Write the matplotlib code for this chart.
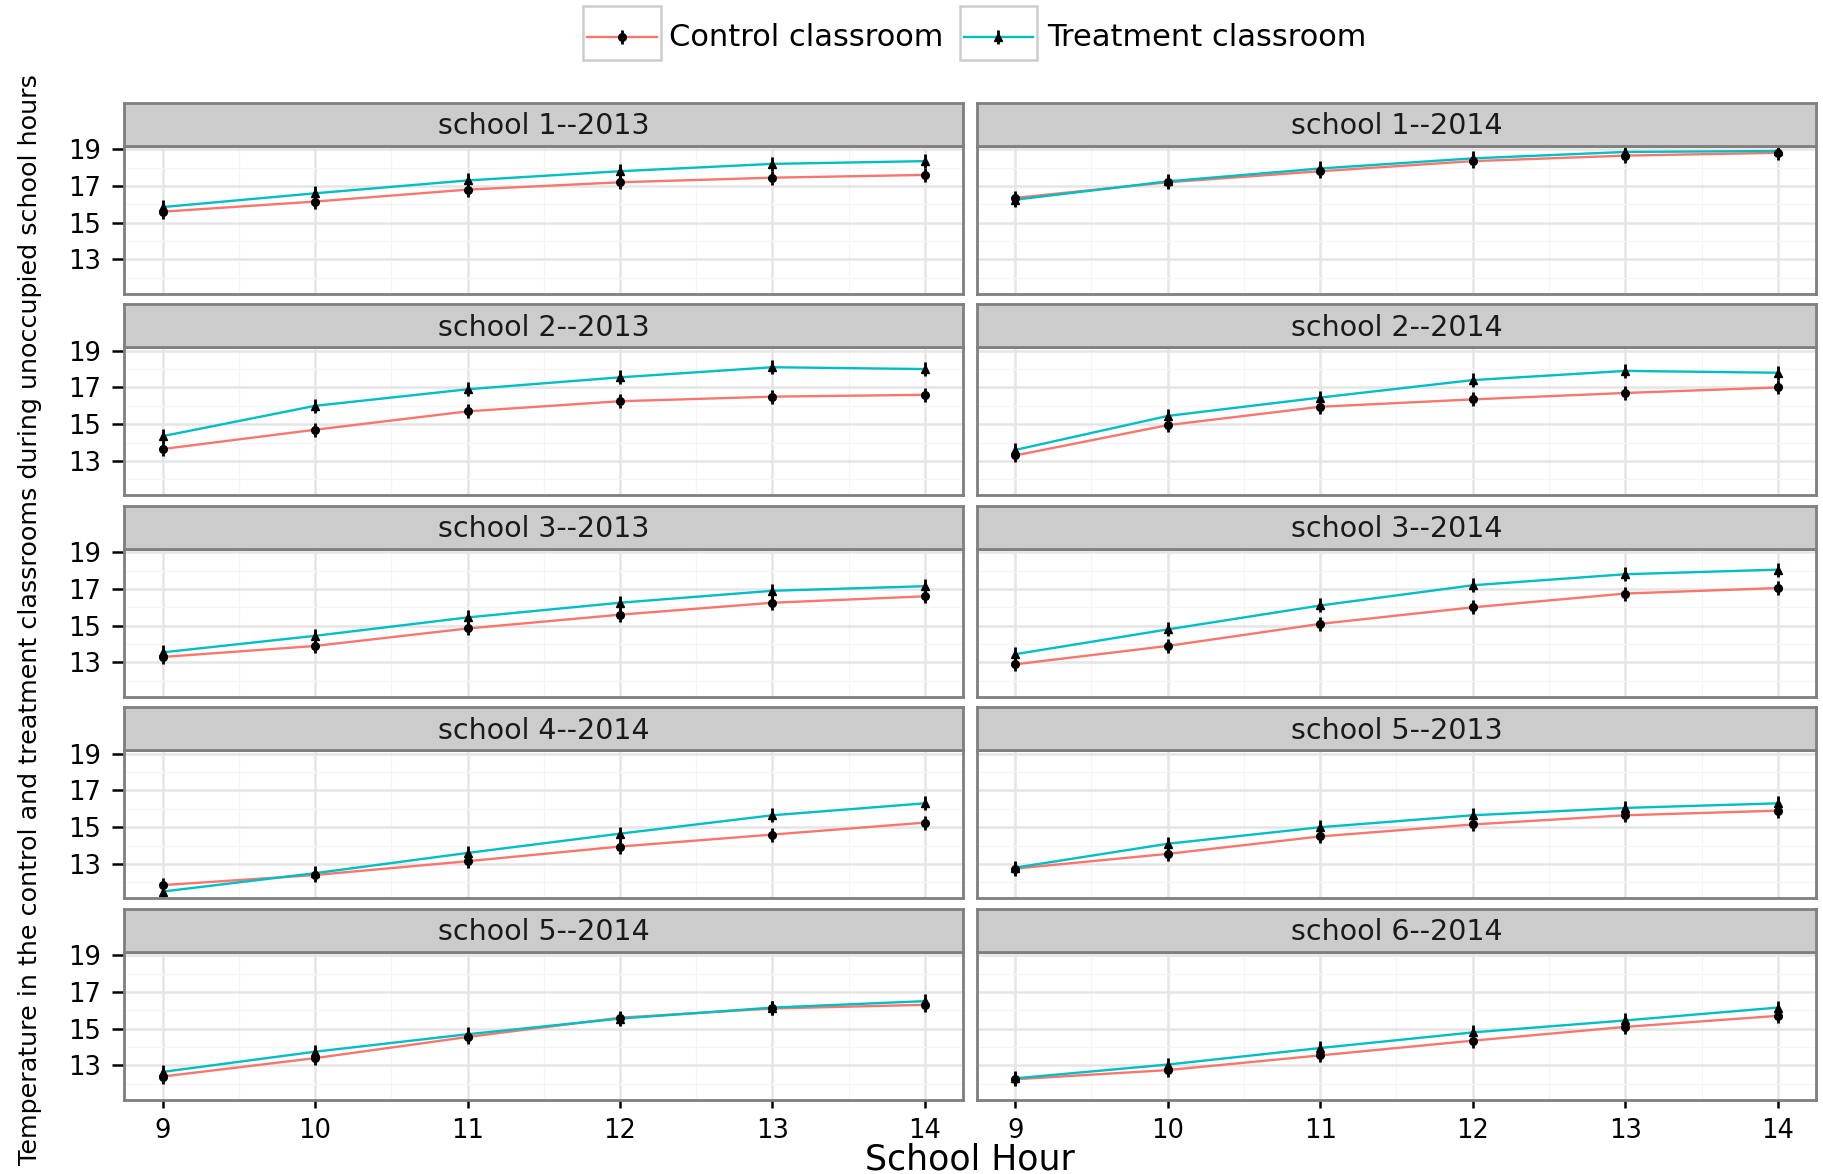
import numpy as np
import matplotlib
matplotlib.use("Agg")
import matplotlib.pyplot as plt
from matplotlib.lines import Line2D
from matplotlib.patches import Rectangle

plt.rcParams['font.family'] = ['DejaVu Sans']

hours = [9, 10, 11, 12, 13, 14]
panels = ["school 1--2013", "school 1--2014", "school 2--2013", "school 2--2014",
          "school 3--2013", "school 3--2014", "school 4--2014", "school 5--2013",
          "school 5--2014", "school 6--2014"]
control = [
    [15.6, 16.15, 16.8, 17.2, 17.45, 17.6],
    [16.35, 17.2, 17.8, 18.35, 18.65, 18.8],
    [13.65, 14.7, 15.7, 16.25, 16.5, 16.6],
    [13.3, 14.95, 15.95, 16.35, 16.7, 17.0],
    [13.3, 13.9, 14.85, 15.6, 16.25, 16.6],
    [12.9, 13.9, 15.1, 16.0, 16.75, 17.05],
    [11.85, 12.4, 13.15, 13.95, 14.6, 15.25],
    [12.75, 13.55, 14.5, 15.15, 15.65, 15.9],
    [12.4, 13.4, 14.55, 15.6, 16.1, 16.3],
    [12.25, 12.75, 13.55, 14.35, 15.1, 15.7],
]
treatment = [
    [15.85, 16.6, 17.3, 17.8, 18.2, 18.35],
    [16.25, 17.25, 17.95, 18.5, 18.85, 18.9],
    [14.35, 16.0, 16.9, 17.55, 18.1, 18.0],
    [13.6, 15.45, 16.45, 17.4, 17.9, 17.8],
    [13.55, 14.45, 15.45, 16.25, 16.9, 17.15],
    [13.45, 14.8, 16.1, 17.2, 17.8, 18.05],
    [11.5, 12.5, 13.6, 14.65, 15.65, 16.3],
    [12.8, 14.1, 15.0, 15.65, 16.05, 16.3],
    [12.65, 13.75, 14.7, 15.55, 16.15, 16.5],
    [12.3, 13.05, 13.95, 14.8, 15.45, 16.15],
]
series_names = ["Control classroom", "Treatment classroom"]
y_ticks = [13, 15, 17, 19]

RED = "#F8766D"
CYAN = "#00BFC4"
BORDER = "#7F7F7F"

W, H = 1824, 1174
fig = plt.figure(figsize=(W / 100, H / 100), dpi=100)


def box(x0, y0, x1, y1):
    # pixel box (top-left origin) -> figure fraction rect
    return [x0 / W, 1 - y1 / H, (x1 - x0) / W, (y1 - y0) / H]


cols = [(124.5, 963), (977, 1816)]
top0, pitch, ph, sh = 145.5, 201.5, 148, 43

for i, name in enumerate(panels):
    r, c = divmod(i, 2)
    x0, x1 = cols[c]
    t = top0 + r * pitch
    ax = fig.add_axes(box(x0, t, x1, t + ph))
    sax = fig.add_axes(box(x0, t - sh, x1, t))

    # strip
    sax.set_facecolor("#CCCCCC")
    sax.set_xticks([])
    sax.set_yticks([])
    for s in sax.spines.values():
        s.set_color(BORDER)
        s.set_linewidth(2)
    sax.text(0.5, 0.45, name, transform=sax.transAxes, ha="center", va="center",
             fontsize=20.5, color="#1A1A1A")

    # panel
    ax.plot(hours, control[i], color=RED, lw=1.7, zorder=3)
    ax.plot(hours, treatment[i], color=CYAN, lw=1.7, zorder=3)
    ax.plot(hours, control[i], ls="none", marker="|", ms=10, mew=2, color="black", zorder=4)
    ax.plot(hours, treatment[i], ls="none", marker="|", ms=10, mew=2, color="black", zorder=4)
    ax.plot(hours, control[i], ls="none", marker="o", ms=5.5, color="black", zorder=4)
    ax.plot(hours, treatment[i], ls="none", marker="^", ms=6, color="black", zorder=4)

    ax.set_xlim(8.75, 14.25)
    ax.set_ylim(11.15, 19.2)
    ax.set_xticks(hours)
    ax.set_xticks([9.5, 10.5, 11.5, 12.5, 13.5], minor=True)
    ax.set_yticks(y_ticks)
    ax.set_yticks([12, 14, 16, 18], minor=True)
    ax.grid(which="major", color="#E5E5E5", lw=1.8, zorder=0)
    ax.grid(which="minor", color="#F5F5F5", lw=1.0, zorder=0)
    ax.set_axisbelow(True)
    for s in ax.spines.values():
        s.set_color(BORDER)
        s.set_linewidth(2)
        s.set_zorder(5)

    ax.tick_params(which="minor", length=0)
    if c == 0:
        ax.tick_params(axis="y", which="major", length=9, width=1.8, color="black",
                       labelsize=18.5, pad=8)
    else:
        ax.tick_params(axis="y", which="major", length=0, labelleft=False)
    if r == 4:
        ax.tick_params(axis="x", which="major", length=6, width=1.8, color="black",
                       labelsize=18.5, pad=7)
    else:
        ax.tick_params(axis="x", which="major", length=0, labelbottom=False)

# legend drawn at the top
key_boxes = [(583, 661), (960, 1037)]
text_x = [669, 1047]
markers = ["o", "^"]
for (kx0, kx1), tx, lab, col, mk in zip(key_boxes, text_x, series_names, [RED, CYAN], markers):
    fig.add_artist(Rectangle(((kx0) / W, 1 - 60 / H), (kx1 - kx0) / W, 54 / H,
                             transform=fig.transFigure, facecolor="white",
                             edgecolor="#CCCCCC", lw=1.8))
    cx = (kx0 + kx1) / 2
    fig.add_artist(Line2D([(kx0 + 4) / W, (kx1 - 4) / W], [1 - 37 / H] * 2,
                          transform=fig.transFigure, color=col, lw=1.7))
    fig.add_artist(Line2D([cx / W], [1 - 37 / H], transform=fig.transFigure,
                          ls="none", marker="|", ms=10, mew=2, color="black"))
    fig.add_artist(Line2D([cx / W], [1 - 37 / H], transform=fig.transFigure,
                          ls="none", marker=mk, ms=5.5, color="black"))
    fig.text(tx / W, 1 - 38 / H, lab, ha="left", va="center", fontsize=22, color="black")

fig.text(970 / W, 1 - 1160 / H, "School Hour", ha="center", va="center", fontsize=25)
fig.text(30 / W, 1 - 620 / H,
         "Temperature in the control and treatment classrooms during unoccupied school hours",
         rotation=90, ha="center", va="center", fontsize=18.3)

fig.savefig("out.png", dpi=100, facecolor="white")
